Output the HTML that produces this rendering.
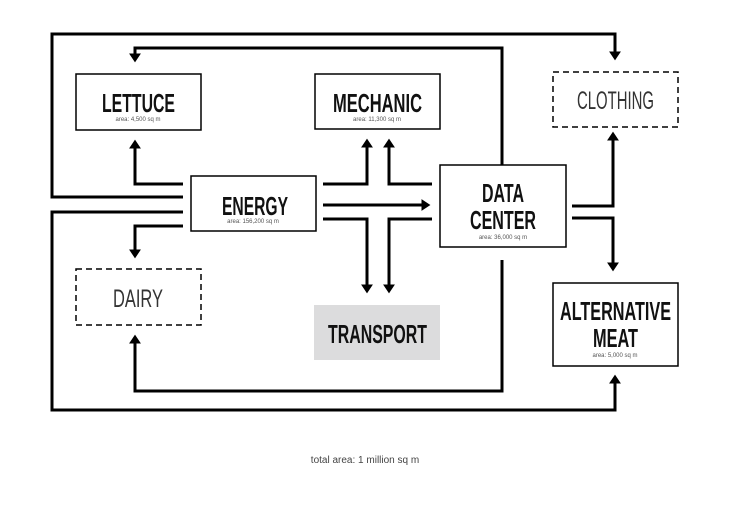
<!DOCTYPE html>
<html><head><meta charset="utf-8"><style>
html,body{margin:0;padding:0;background:#fff}
svg{display:block}
.b{font-family:"Liberation Sans Narrow","Liberation Sans",sans-serif;font-weight:bold;fill:#111}
.t{font-family:"Liberation Sans Narrow","Liberation Sans",sans-serif;fill:#333}
.s{font-family:"Liberation Sans",sans-serif;font-size:6px;fill:#555}
</style></head><body>
<svg width="730" height="516" viewBox="0 0 730 516" xmlns="http://www.w3.org/2000/svg">
<defs><marker id="a" markerWidth="4" markerHeight="4" refX="2.2" refY="2" orient="auto" markerUnits="strokeWidth"><path d="M0,0 L3,2 L0,4 z" fill="#000"/></marker></defs>
<g fill="none" stroke="#000" stroke-width="3">
<!-- outer top loop -->
<polyline points="183,197 52,197 52,34 615,34 615,58" marker-end="url(#a)"/>
<!-- data center to lettuce -->
<polyline points="502,165 502,48 135,48 135,60" marker-end="url(#a)"/>
<!-- energy to lettuce -->
<polyline points="183,184 135,184 135,142" marker-end="url(#a)"/>
<!-- outer bottom loop -->
<polyline points="183,212 52,212 52,410 615,410 615,377" marker-end="url(#a)"/>
<!-- energy to dairy -->
<polyline points="183,226 135,226 135,256" marker-end="url(#a)"/>
<!-- data center to dairy -->
<polyline points="502,260 502,391 135,391 135,337" marker-end="url(#a)"/>
<!-- cross -->
<polyline points="323,184 367,184 367,141" marker-end="url(#a)"/>
<polyline points="432,184 389,184 389,141" marker-end="url(#a)"/>
<polyline points="323,219 367,219 367,291" marker-end="url(#a)"/>
<polyline points="432,219 389,219 389,291" marker-end="url(#a)"/>
<line x1="323" y1="205" x2="428" y2="205" marker-end="url(#a)"/>
<!-- data center to clothing / alt meat -->
<polyline points="572,206 613,206 613,134" marker-end="url(#a)"/>
<polyline points="572,218 613,218 613,269" marker-end="url(#a)"/>
</g>
<g stroke="#000" stroke-width="1.5" fill="#fff">
<rect x="76" y="74" width="125" height="56"/>
<rect x="315" y="74" width="125" height="55"/>
<rect x="191" y="176" width="125" height="55"/>
<rect x="440" y="165" width="126" height="82"/>
<rect x="553" y="283" width="125" height="83"/>
<rect x="553" y="72" width="125" height="55" stroke-dasharray="6,4"/>
<rect x="76" y="269" width="125" height="56" stroke-dasharray="6,4"/>
</g>
<rect x="314" y="305" width="126" height="55" fill="#dcdcdd"/>
<g font-size="26">
<text class="b" x="102" y="112" textLength="73" lengthAdjust="spacingAndGlyphs">LETTUCE</text>
<text class="b" x="333" y="112" textLength="89" lengthAdjust="spacingAndGlyphs">MECHANIC</text>
<text class="b" x="222" y="215" textLength="66" lengthAdjust="spacingAndGlyphs">ENERGY</text>
<text class="b" x="482" y="202" textLength="42" lengthAdjust="spacingAndGlyphs">DATA</text>
<text class="b" x="470" y="229" textLength="66" lengthAdjust="spacingAndGlyphs">CENTER</text>
<text class="b" x="328" y="343" textLength="99" lengthAdjust="spacingAndGlyphs">TRANSPORT</text>
<text class="b" x="560" y="320" textLength="111" lengthAdjust="spacingAndGlyphs">ALTERNATIVE</text>
<text class="b" x="593" y="347" textLength="45" lengthAdjust="spacingAndGlyphs">MEAT</text>
</g>
<g font-size="25">
<text class="t" x="577" y="109" textLength="77" lengthAdjust="spacingAndGlyphs">CLOTHING</text>
<text class="t" x="113" y="307" textLength="50" lengthAdjust="spacingAndGlyphs">DAIRY</text>
</g>
<g text-anchor="middle">
<text class="s" x="138" y="121">area: 4,500 sq m</text>
<text class="s" x="377" y="121">area: 11,300 sq m</text>
<text class="s" x="253" y="223">area: 156,200 sq m</text>
<text class="s" x="503" y="239">area: 36,000 sq m</text>
<text class="s" x="615" y="357">area: 5,000 sq m</text>
<text x="365" y="463" font-family="Liberation Sans,sans-serif" font-size="10" fill="#444">total area: 1 million sq m</text>
</g>
</svg>
</body></html>
